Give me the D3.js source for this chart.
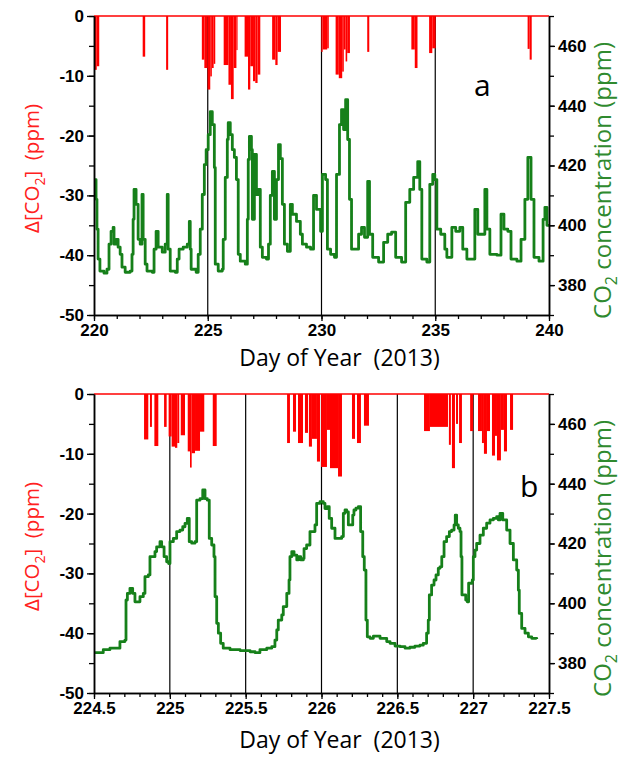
<!DOCTYPE html>
<html><head><meta charset="utf-8">
<script src="https://cdn.jsdelivr.net/npm/d3@7"></script>
<style>body{margin:0;background:#fff} svg{display:block}</style>
</head><body><svg id="c" width="632" height="770"></svg>
<script>
// ---------- Panel a : CO2 concentration (ppm) vs day of year ----------
const co2DayA = [220.04,220.09,220.13,220.18,220.26,220.44,220.57,220.66,220.75,220.84,220.88,220.97,221.06,221.15,221.23,221.37,221.59,221.67,221.72,221.76,221.85,221.94,222.03,222.11,222.16,222.25,222.33,222.56,222.64,222.73,222.82,223.0,223.13,223.22,223.26,223.35,223.57,223.66,223.74,223.92,224.1,224.19,224.23,224.27,224.49,224.58,224.67,224.76,224.85,224.93,225.02,225.11,225.2,225.29,225.33,225.46,225.64,225.68,225.77,225.86,225.9,225.99,226.08,226.17,226.26,226.34,226.43,226.65,226.74,226.78,226.83,226.92,226.96,227.05,227.14,227.22,227.31,227.4,227.58,227.67,227.75,227.84,227.93,228.02,228.11,228.19,228.28,228.37,228.5,228.63,228.72,228.9,229.07,229.16,229.34,229.52,229.65,229.78,229.96,230.04,230.18,230.26,230.4,230.57,230.66,230.79,230.88,230.97,231.06,231.15,231.23,231.32,231.5,231.63,231.76,231.89,232.03,232.11,232.25,232.51,232.73,232.91,233.08,233.26,233.52,233.7,233.88,234.05,234.23,234.32,234.41,234.63,234.76,234.89,234.98,235.07,235.24,235.42,235.51,235.73,235.9,236.08,236.21,236.39,236.56,236.74,236.87,237.05,237.18,237.27,237.4,237.71,237.89,238.02,238.19,238.33,238.59,238.77,238.94,239.07,239.21,239.34,239.56,239.74,239.82,239.91,240.0];
const co2PpmA = [415.3,408.7,398.7,388.7,384.7,384,385.3,393.7,398,399.3,393.7,395.3,392.7,390.3,386,384.3,384.7,390.3,402,412,407,395.3,393.7,410.3,395.3,387,384.7,384.3,392,398,392.7,391,393.7,410.3,392,384.7,384.3,388.7,392,392.7,393.7,401.3,392,385.3,384.3,390.3,398.7,410.3,420.3,425.3,430.3,438,433.7,419.3,387,384.7,385.3,395.3,416,428.7,434.3,430.3,425.3,422.7,415.3,390.3,388,387,402,422,429.7,425.3,402,423.7,410.3,412,392.7,389.3,388.7,393.7,410,418,402,415.3,427,422.3,407,393.7,391.3,407,403.7,401.3,397,393.7,392.7,392,410,405.3,398,417,415.3,392,390.3,389.3,417,433.7,438.7,432,442,428.7,408.7,392,392,397,399.3,396,414.7,397,389.3,387.7,394.3,397,397.7,389.3,387.7,407.7,412,416,421.3,412,388.7,387.7,413.7,417,415.3,398.7,397,392,389.3,399.3,398,399.3,392,388.7,388.7,405.3,397,397,412,398.7,390.3,390,403.7,398.7,398,388.7,388,395.3,408.7,422.7,408.7,389.3,388,402,406,400,400];
// Panel a : Delta[CO2] (ppm) bars, each from start day to end day
const barStartA = [220.0,220.12,222.14,223.17,224.74,224.85,224.99,225.11,225.18,225.26,225.70,225.91,226.02,226.14,226.26,226.62,226.77,226.87,226.99,227.09,227.19,227.83,227.97,228.07,229.99,230.05,230.25,230.62,230.76,230.91,230.98,231.06,231.13,232.01,233.95,234.10,234.73,234.87,239.06,239.15];
const barEndA   = [220.12,220.23,222.25,223.26,224.85,224.99,225.11,225.18,225.26,225.33,225.91,226.02,226.14,226.26,226.31,226.77,226.87,226.99,227.09,227.19,227.31,227.97,228.07,228.22,230.05,230.25,230.32,230.76,230.91,230.98,231.06,231.13,231.25,232.10,234.10,234.22,234.87,235.02,239.15,239.24];
const barValA   = [-9,-8.4,-6.8,-9,-7.3,-8.7,-12.3,-10.1,-8.7,-8,-8.2,-11.5,-13.9,-8.7,-5.7,-6.8,-12.3,-8.4,-10.9,-11.2,-9.8,-7.3,-8.2,-6,-6,-5.6,-5.4,-9.8,-10.4,-9.3,-5.6,-7.6,-6.2,-6,-5.6,-8.7,-6.2,-5.4,-5.5,-7.3];

// ---------- Panel b ----------
const co2DayB = [224.507,224.561,224.605,224.66,224.671,224.704,224.711,224.72,224.737,224.755,224.77,224.792,224.803,224.825,224.836,224.858,224.869,224.891,224.902,224.913,224.935,224.946,224.962,224.979,224.992,225.001,225.023,225.045,225.067,225.085,225.1,225.115,225.128,225.144,225.166,225.177,225.199,225.217,225.232,225.247,225.26,225.276,225.291,225.298,225.309,225.32,225.335,225.352,225.397,225.463,225.529,225.562,225.594,225.639,225.672,225.693,225.705,225.715,225.738,225.748,225.771,225.786,225.792,225.804,225.819,225.837,225.847,225.863,225.88,225.885,225.902,225.924,225.935,225.957,225.968,225.99,226.012,226.023,226.038,226.051,226.067,226.089,226.111,226.133,226.144,226.155,226.166,226.177,226.193,226.206,226.214,226.227,226.243,226.258,226.272,226.282,226.293,226.302,226.32,226.342,226.386,226.43,226.452,226.485,226.518,226.551,226.583,226.616,226.649,226.671,226.693,226.704,226.711,226.726,226.742,226.755,226.77,226.781,226.793,226.808,226.825,226.843,226.858,226.874,226.882,226.891,226.902,226.913,226.92,226.926,226.94,226.951,226.961,226.97,226.994,227.001,227.012,227.023,227.045,227.067,227.089,227.111,227.133,227.155,227.166,227.177,227.195,227.21,227.221,227.243,227.265,227.287,227.298,227.304,227.32,227.342,227.364,227.386,227.419];
const co2PpmB = [383.5,384.5,385,385,387.2,387.7,401.1,403.3,405,403.3,400.5,400.5,402.2,403.3,408.9,409.5,415.6,415.6,417.3,418.9,420.6,418.9,415.6,413.9,413.3,420.6,421.7,424,424.5,425.6,426.7,428.4,420.6,420.1,420.6,434.5,435,437.9,435,434.5,421.7,419.5,415.6,402.2,393.3,390,386.6,385,384.5,384.2,383.8,383.5,384.5,385,385.5,387.7,391.1,394.4,396.1,398.9,403.3,407.8,415.6,417.3,416.1,414.5,415.6,414.5,415,418.3,419.5,424,424,426.2,433.4,434,433.4,431.7,432.3,428.4,425.1,421.7,421.7,422.3,430.1,431.2,430.6,426.2,426.2,429.5,431.2,431.8,432.3,424,415.6,411.1,394.4,388.8,388.3,389,388.3,387.2,386.6,385.7,385.5,385,385.3,385.7,386,386.6,390,394.4,402.8,406.1,407.8,409.5,411.7,412.2,415.6,420.6,422.3,424,424.5,426.2,429.5,426.2,425.1,424,415.6,402.8,402.8,401.1,400.5,406.7,407.8,415.6,417.8,420,422.8,425.1,426.8,427.9,428.4,429,427.9,430.1,427.9,427.9,424.5,420,414.5,411.1,404.4,396.6,391.6,390,388.8,388.3,388.1];
const barStartB = [224.830,224.869,224.898,224.962,224.992,225.012,225.034,225.049,225.072,225.118,225.133,225.144,225.166,225.199,225.283,225.773,225.812,225.845,225.891,225.917,225.937,225.970,225.997,226.036,226.056,226.109,226.201,226.234,226.280,226.676,226.715,226.840,226.860,226.887,226.907,226.980,227.032,227.058,227.071,227.091,227.124,227.144,227.157,227.183,227.203,227.243];
const barEndB   = [224.858,224.882,224.924,224.979,225.012,225.034,225.049,225.062,225.100,225.133,225.144,225.166,225.199,225.227,225.309,225.792,225.832,225.878,225.911,225.937,225.970,225.990,226.036,226.056,226.109,226.135,226.221,226.260,226.313,226.715,226.834,226.853,226.880,226.900,226.926,227.000,227.058,227.071,227.091,227.111,227.144,227.157,227.183,227.203,227.223,227.263];
const barValB   = [-7.6,-5.5,-8.7,-5.5,-7.1,-8.8,-9,-8.2,-6.9,-9.6,-12.3,-9.9,-9.5,-6.3,-8.7,-8.2,-6.3,-8.2,-6.5,-8.8,-7.5,-11.3,-12.2,-6,-12.4,-13.8,-7.5,-8.2,-5.3,-6.2,-5.5,-8.5,-12.4,-5,-8.2,-6.2,-6.2,-8.2,-10,-6.2,-10.3,-7,-11.1,-6,-9.6,-6];

// axis tick definitions
const xTicksA = [220,225,230,235,240];
const xMinorA = d3.range(220,241,1);
const gridA = [225,230,235];
const xTicksB = [224.5,225,225.5,226,226.5,227,227.5];
const xMinorB = d3.range(0,31).map(i=>224.5+i*0.1);
const gridB = [225,225.5,226,226.5,227];
const leftTicks = [0,-10,-20,-30,-40,-50];
const leftMinor = d3.range(-50,1,5);
const rightTicks = [380,400,420,440,460];
const rightMinor = d3.range(370,471,10);

const svg = d3.select("#c");
const RED = "#ff0000", GREEN = "#16801a", TXTGREEN = "#2f8a2f";
const tickFont = "bold 17px 'Liberation Sans', Arial, sans-serif";
const titleFont = "'Open Sans', sans-serif";

function panel(o){
  const L=94, R=549, T=o.top, B=o.top+299;
  const x = d3.scaleLinear().domain(o.xdom).range([L,R]);
  const yl = d3.scaleLinear().domain([-50,0]).range([B,T]);
  const yr = d3.scaleLinear().domain([370,470]).range([B,T]);
  const g = svg.append("g");
  // gridlines
  g.selectAll(".grid").data(o.grid).enter().append("line")
    .attr("x1",d=>x(d)).attr("x2",d=>x(d)).attr("y1",T).attr("y2",B)
    .attr("stroke","#000").attr("stroke-width",1.2);
  // bars
  const bars = o.bs.map((s,i)=>({s, e:o.be[i], v:o.bv[i]}))
     .filter(d=>d.e>o.xdom[0] && d.s<o.xdom[1]);
  g.selectAll(".bar").data(bars).enter().append("rect")
    .attr("x",d=>x(Math.max(d.s,o.xdom[0])))
    .attr("width",d=>Math.max(0.6, x(Math.min(d.e,o.xdom[1]))-x(Math.max(d.s,o.xdom[0]))))
    .attr("y",yl(0)).attr("height",d=>yl(d.v)-yl(0))
    .attr("fill",RED);
  // zero line (red)
  g.append("line").attr("x1",L).attr("x2",R).attr("y1",yl(0)).attr("y2",yl(0))
    .attr("stroke",RED).attr("stroke-width",1.5);
  // green line
  const pts = o.cd.map((d,i)=>[d,o.cp[i]]);
  g.append("path").datum(pts)
    .attr("d",d3.line().curve(d3.curveStepAfter).x(d=>x(d[0])).y(d=>yr(d[1])))
    .attr("fill","none").attr("stroke",GREEN).attr("stroke-width",2.8)
    .attr("stroke-linejoin","round");
  // axes
  const ax = g.append("g").attr("transform",`translate(0,${B})`)
    .call(d3.axisBottom(x).tickValues(o.xt).tickSize(6).tickSizeOuter(0).tickFormat(d=>String(d)));
  g.append("g").attr("transform",`translate(0,${B})`)
    .call(d3.axisBottom(x).tickValues(o.xm).tickSize(4).tickSizeOuter(0).tickFormat(""));
  const ayl = g.append("g").attr("transform",`translate(${L},0)`)
    .call(d3.axisLeft(yl).tickValues(leftTicks).tickSize(7).tickSizeOuter(0).tickFormat(d=>String(d)));
  g.append("g").attr("transform",`translate(${L},0)`)
    .call(d3.axisLeft(yl).tickValues(leftMinor).tickSize(5).tickSizeOuter(0).tickFormat(""));
  const ayr = g.append("g").attr("transform",`translate(${R},0)`)
    .call(d3.axisRight(yr).tickValues(rightTicks).tickSize(6).tickSizeOuter(0).tickFormat(d=>String(d)));
  g.append("g").attr("transform",`translate(${R},0)`)
    .call(d3.axisRight(yr).tickValues(rightMinor).tickSize(5).tickSizeOuter(0).tickFormat(""));
  g.selectAll(".domain").attr("stroke","#000").attr("stroke-width",1.5);
  g.selectAll(".tick line").attr("stroke","#000").attr("stroke-width",1.3);
  g.selectAll(".tick text").style("font",tickFont).attr("fill","#000");
  ax.selectAll(".tick text").attr("dy","0.9em").attr("y",6);
  ayl.selectAll(".tick text").attr("x",-10);
  ayr.selectAll(".tick text").attr("x",9);
  // panel letter
  g.append("text").attr("x",o.lx).attr("y",o.ly).text(o.letter)
    .style("font",`30px ${titleFont}`).attr("fill","#000");
  // x title
  g.append("text").attr("x",(L+R)/2+18).attr("y",B+o.tdy).attr("text-anchor","middle")
    .style("font",`23px ${titleFont}`).attr("fill","#000")
    .style("white-space","pre").text("Day of Year  (2013)");
  // left title
  const lt = g.append("text").attr("transform",`translate(39,${(T+B)/2+3}) rotate(-90)`)
    .attr("text-anchor","middle").style("font",`20.5px ${titleFont}`).attr("fill","#ff2020")
    .style("white-space","pre");
  lt.append("tspan").text("Δ[CO");
  lt.append("tspan").text("2").attr("dy",6).style("font-size","14px");
  lt.append("tspan").text("]  (ppm)").attr("dy",-6);
  // right title
  const rt = g.append("text").attr("transform",`translate(611,${(T+B)/2+15}) rotate(-90)`)
    .attr("text-anchor","middle").style("font",`24px ${titleFont}`).attr("fill",TXTGREEN)
    .style("white-space","pre");
  rt.append("tspan").text("CO");
  rt.append("tspan").text("2").attr("dy",6).style("font-size","16px");
  rt.append("tspan").text(" concentration (ppm)").attr("dy",-6);
}

panel({top:16, xdom:[220,240], xt:xTicksA, xm:xMinorA, grid:gridA, tdy:51,
  cd:co2DayA, cp:co2PpmA, bs:barStartA, be:barEndA, bv:barValA, letter:"a", lx:474, ly:96});
panel({top:394, xdom:[224.5,227.5], xt:xTicksB, xm:xMinorB, grid:gridB, tdy:55,
  cd:co2DayB, cp:co2PpmB, bs:barStartB, be:barEndB, bv:barValB, letter:"b", lx:520, ly:497});
</script></body></html>
